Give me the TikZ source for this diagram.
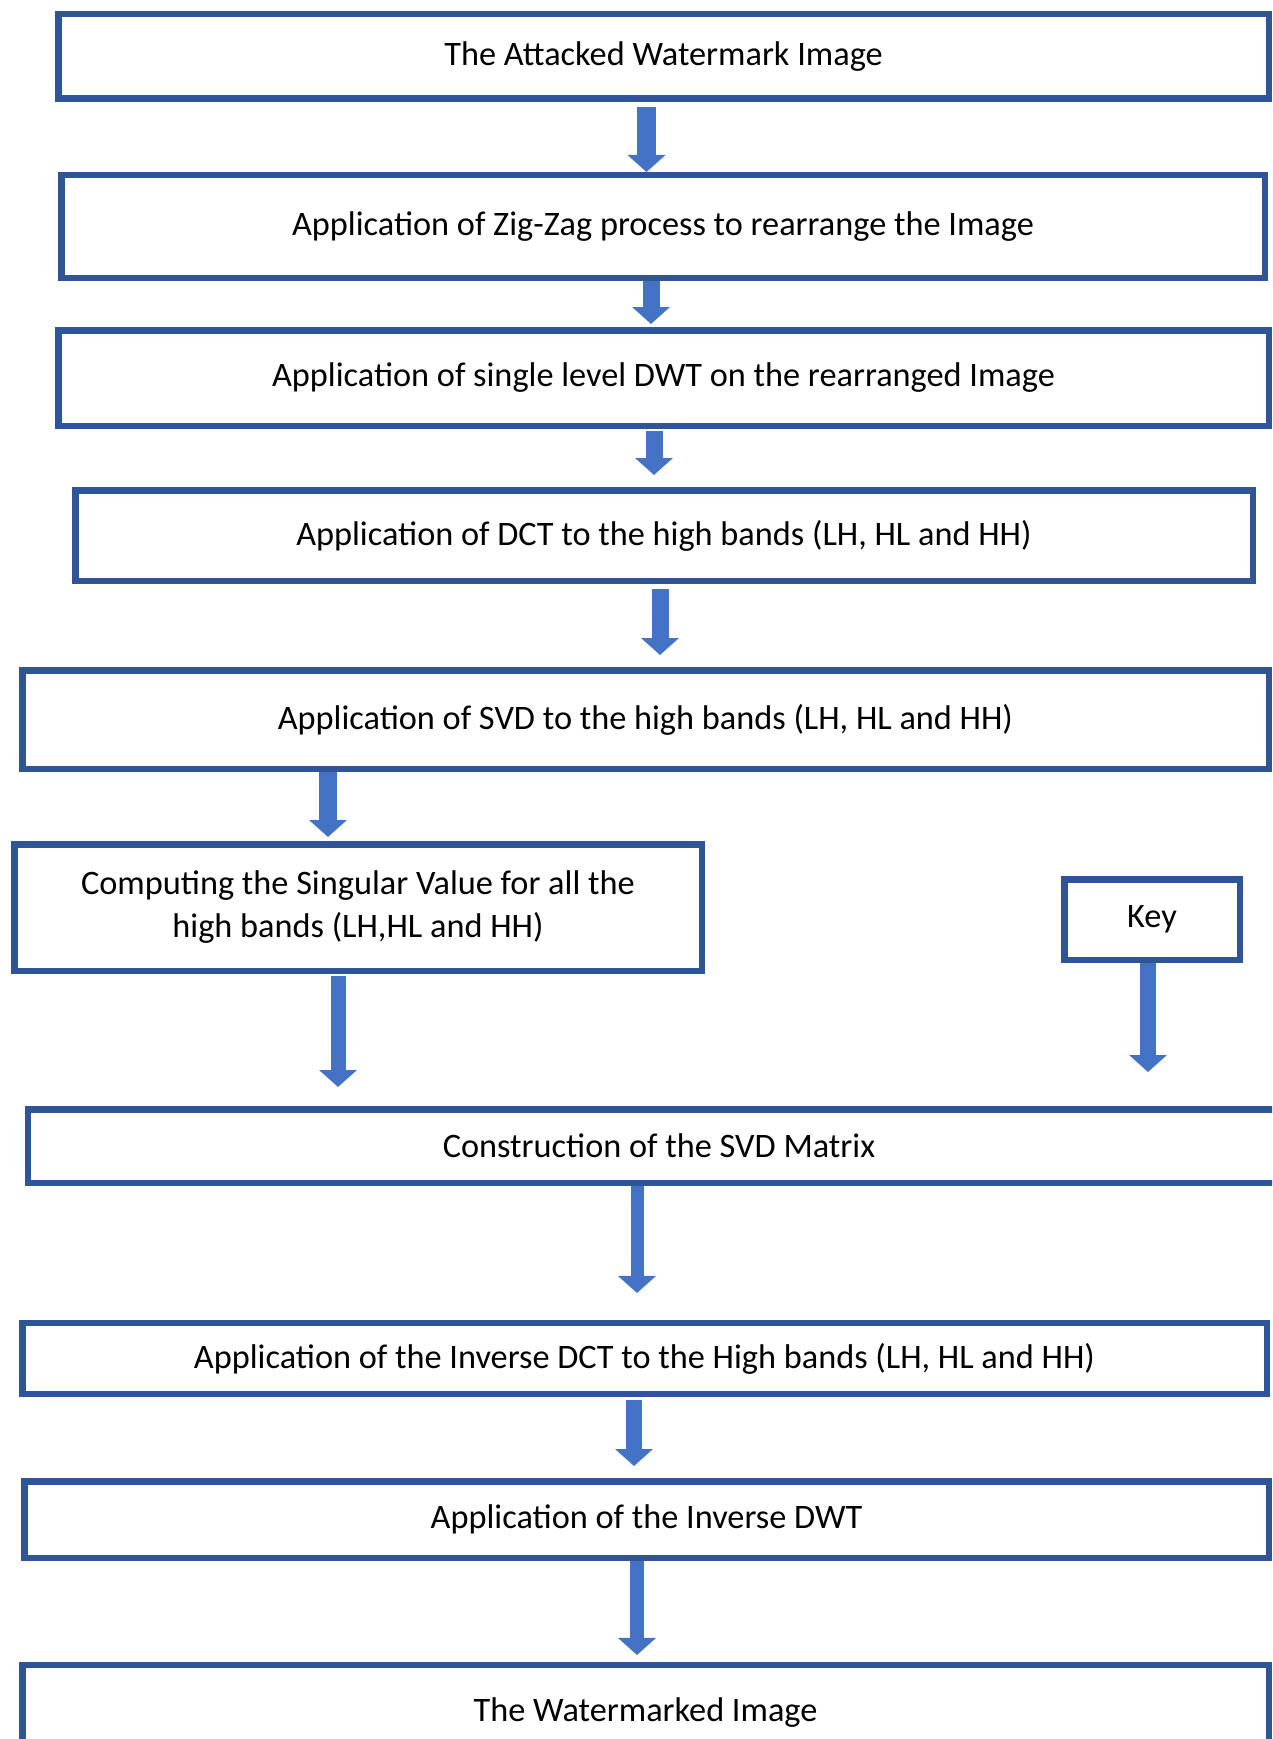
\documentclass[tikz,border=0pt]{standalone}
\usepackage{fontspec}
\setmainfont{Carlito}
\usepackage{xcolor}
\usepackage{tikz}
\usetikzlibrary{positioning,arrows.meta}
\definecolor{boxblue}{HTML}{2F5597}
\definecolor{arrowblue}{HTML}{4472C4}
\newcommand{\stepfont}{\fontsize{34.3}{43}\selectfont}
\tikzset{
  box/.style={rectangle, draw=boxblue, line width=6.5pt, fill=white,
              align=center, font=\stepfont, inner sep=0pt},
  flow/.style={-{Triangle[length=17pt,width=37pt]}, line width=#1, draw=arrowblue},
  flow/.default=17pt,
}

\begin{document}
\begin{tikzpicture}[x=1pt,y=-1pt]
  \useasboundingbox (0,0) rectangle (1272,1739);
  \clip (0,0) rectangle (1272,1739);

  \node[box, minimum width=1210.5pt, minimum height=84.5pt] (att) at (663.5,56.5) {The Attacked Watermark Image};
  \node[box, minimum width=1203.5pt, minimum height=102.5pt] (zig) at (663,226.5) {Application of Zig-Zag process to rearrange the Image};
  \node[box, minimum width=1210.5pt, minimum height=95.5pt] (dwt) at (663.5,378) {Application of single level DWT on the rearranged Image};
  \node[box, minimum width=1177.5pt, minimum height=90.5pt] (dct) at (664,535.5) {Application of DCT to the high bands (LH, HL and HH)};
  \node[box, minimum width=1246.5pt, minimum height=98.5pt] (svd) at (645.5,719.5) {Application of SVD to the high bands (LH, HL and HH)};
  \node[box, minimum width=687.5pt, minimum height=126.5pt] (sing) at (358,907.5) {Computing the Singular Value for all the\\high bands (LH,HL and HH)};
  \node[box, minimum width=175.5pt, minimum height=80.5pt] (key) at (1152,919.5) {Key};
  \node[box, minimum width=1261.75pt, minimum height=73.5pt] (cons) at (659,1146) {Construction of the SVD Matrix};
  \node[box, minimum width=1244.5pt, minimum height=70.75pt] (idct) at (644.5,1358.6) {Application of the Inverse DCT to the High bands (LH, HL and HH)};
  \node[box, minimum width=1244.5pt, minimum height=76.5pt] (idwt) at (646.5,1519.5) {Application of the Inverse DWT};
  \node[box, minimum width=1246.5pt, minimum height=94.75pt] (wm) at (645.5,1712.6) {The Watermarked Image};

  \draw[flow=19pt] ([xshift=-17,yshift=-5]att.south) -- ([xshift=-17]att.south |- zig.north);
  \draw[flow, shorten >=3pt] ([xshift=-12]zig.south) -- ([xshift=-12]zig.south |- dwt.north);
  \draw[flow, shorten >=12pt] ([xshift=-9.5,yshift=-2]dwt.south) -- ([xshift=-9.5]dwt.south |- dct.north);
  \draw[flow, shorten >=12pt] ([xshift=-4,yshift=-5]dct.south) -- ([xshift=-4]dct.south |- svd.north);
  \draw[flow=18pt, shorten >=4pt] ([xshift=-317.5]svd.south) -- ([xshift=-317.5]svd.south |- sing.north);
  \draw[flow=15pt, shorten >=19pt] ([xshift=-20,yshift=-2]sing.south) -- ([xshift=-20]sing.south |- cons.north);
  \draw[flow=16pt, shorten >=34pt] ([xshift=-4]key.south) -- ([xshift=-4]key.south |- cons.north);
  \draw[flow=13pt, shorten >=27pt] ([xshift=-22]cons.south) -- ([xshift=-22]cons.south |- idct.north);
  \draw[flow=16pt, shorten >=12pt] ([xshift=-10.5,yshift=-3]idct.south) -- ([xshift=-10.5]idct.south |- idwt.north);
  \draw[flow=14pt, shorten >=7pt] ([xshift=-9.5]idwt.south) -- ([xshift=-9.5]idwt.south |- wm.north);
\end{tikzpicture}
\end{document}
